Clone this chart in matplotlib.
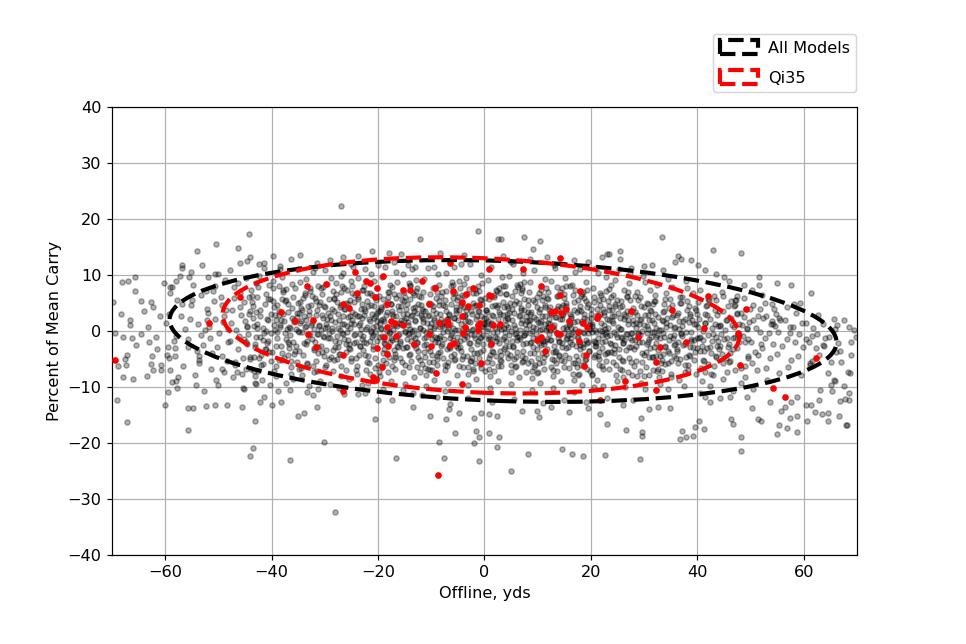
import matplotlib
matplotlib.use('Agg')
import matplotlib.pyplot as plt
from matplotlib.patches import Ellipse

plt.rcParams['font.size'] = 10.8

# pontos lidos fora do miolo (offline yds, % carry) - todos os modelos
edge_left = [
    (-27.0, 22.4), (-44.3, 17.3), (-50.5, 15.5), (-54.0, 14.3), (-46.3, 14.8), (-44.1, 13.2), (-53.0, 11.8),
    (-56.9, 11.8), (-45.9, 12.1), (-44.7, 12.5), (-39.8, 13.3), (-36.4, 12.9), (-34.6, 13.6), (-68.1, 8.8),
    (-67.0, 8.9), (-65.6, 9.6), (-65.6, 7.2), (-60.3, 8.6), (-64.6, 5.4), (-68.3, 3.0), (-66.7, 2.0),
    (-66.7, 1.1), (-69.8, 5.1), (-62.6, 5.1), (-59.1, 7.9), (-59.1, 6.8), (-57.9, 9.0), (-57.3, 9.8),
    (-56.9, 11.2), (-55.2, 10.5), (-52.0, 9.6), (-50.7, 10.1), (-62.3, 4.3), (-61.0, 2.6), (-64.0, 3.5),
    (-63.2, 0.8), (-42.3, 11.9), (-41.5, 12.2), (-38.5, 11.0), (-31.5, 12.2), (-29.0, 12.6), (-26.5, 13.2),
    (-25.0, 12.0), (-23.8, 13.4),
    (-69.0, -12.3), (-67.1, -16.3), (-67.9, -8.3), (-66.1, -8.5), (-63.5, -8.1), (-62.3, -6.9), (-62.6, -5.9),
    (-67.3, -6.0), (-68.9, -6.2), (-67.6, -5.0), (-67.2, -4.2), (-62.5, -4.5), (-61.5, -3.2), (-60.7, -6.0),
    (-60.7, -6.9), (-59.3, -4.8), (-58.2, -4.5), (-59.4, -2.8), (-59.0, -7.0), (-57.6, -8.2), (-57.9, -9.0),
    (-58.7, -9.1), (-57.7, -10.2), (-59.4, -10.9), (-60.0, -13.3), (-55.7, -13.8), (-54.7, -13.8), (-55.7, -17.7),
    (-54.2, -9.7), (-52.7, -10.7), (-52.4, -13.4), (-50.7, -13.3), (-48.3, -13.3), (-45.5, -13.6), (-45.1, -10.3),
    (-45.4, -10.1), (-50.0, -9.6), (-49.3, -6.8), (-46.5, -7.3), (-44.9, -6.8), (-53.7, -5.1), (-55.7, -2.8),
    (-42.1, -12.7), (-41.4, -11.7), (-43.2, -16.0), (-43.5, -20.9), (-44.0, -22.4), (-36.6, -23.0), (-39.9, -13.3),
    (-38.3, -12.7), (-38.8, -10.7), (-36.5, -10.5), (-35.1, -15.1), (-33.9, -14.6), (-31.4, -13.6), (-33.4, -10.9),
    (-32.2, -11.4), (-31.3, -10.4), (-30.2, -19.8), (-28.1, -32.3), (-43.2, -8.1), (-43.2, -9.3), (-42.9, -9.5),
    (-43.3, -7.1), (-26.4, -11.3), (-23.7, -11.3), (-69.5, -0.3), (-68.0, -1.0), (-66.3, -1.3), (-64.5, -0.5),
    (-63.0, -2.0), (-65.5, -2.5), (-61.8, -1.0),
]
edge_mid = [
    (-12.2, 16.5), (-1.3, 17.9), (2.5, 16.4), (3.1, 16.4), (7.4, 16.7), (10.4, 16.0), (9.2, 14.6), (-21.1, 14.2),
    (-18.0, 13.9), (-15.6, 13.7), (-8.4, 13.9), (-3.8, 13.6), (11.8, 13.2), (16.9, 12.7), (19.5, 12.3), (22.0, 13.2),
    (23.0, 13.8), (23.5, 13.8), (3.4, 13.4), (-14.3, 11.7), (-13.1, 11.4), (-9.5, 11.5), (-20.0, 11.8), (-17.0, 12.4),
    (-4.5, 12.0), (5.0, 12.3), (8.5, 12.8), (13.0, 11.7), (18.0, 11.0), (21.0, 11.3),
    (-20.6, -15.8), (-20.0, -12.3), (-17.3, -12.3), (-16.7, -22.7), (-13.4, -13.6), (-10.2, -15.1), (-7.3, -15.7),
    (-8.6, -19.8), (-7.6, -22.7), (-5.6, -18.2), (-6.7, -14.0), (-6.4, -13.0), (-4.8, -14.7), (-2.0, -15.5),
    (-1.5, -17.9), (-1.0, -18.9), (-1.9, -20.0), (-1.0, -23.2), (-0.6, -14.7), (0.9, -18.3), (2.8, -18.9),
    (2.4, -20.8), (2.4, -15.1), (0.9, -14.8), (4.9, -25.0), (7.1, -14.2), (8.1, -22.0), (9.8, -14.2), (10.2, -15.4),
    (12.5, -13.5), (14.6, -21.1), (15.9, -14.4), (16.4, -22.0), (18.5, -22.4), (22.7, -22.1), (23.1, -16.6),
    (21.7, -14.8), (19.5, -13.8), (-13.4, -11.1), (-11.7, -11.4), (-9.0, -11.7), (-22.5, -11.1), (-3.0, -12.0),
    (1.5, -12.6), (5.5, -12.2), (11.0, -12.8), (15.0, -12.3), (19.0, -12.6), (23.0, -12.0),
]
edge_right = [
    (33.4, 16.8), (43.0, 14.4), (48.2, 14.0), (25.5, 14.2), (25.4, 12.9), (29.9, 11.6), (36.4, 13.4), (36.9, 12.9),
    (38.8, 12.6), (40.2, 11.7), (35.8, 12.3), (43.6, 10.2), (45.0, 9.6), (46.0, 9.0), (51.6, 9.6), (51.6, 8.2),
    (54.9, 8.6), (57.7, 8.3), (61.4, 6.7), (58.1, 4.9), (59.3, 5.0), (65.7, 2.1), (66.2, 1.1), (68.6, 0.8),
    (48.7, 8.3), (50.2, 7.4), (52.2, 6.5), (43.6, 5.6), (44.9, 6.2), (47.4, 6.2), (47.1, 4.6), (47.4, 3.2),
    (51.8, 3.9), (53.0, 2.6), (54.8, 3.1), (55.4, 2.3), (54.0, 1.7), (54.3, 1.2), (57.4, 0.8), (27.5, 11.3),
    (31.5, 11.8), (33.5, 10.8), (41.5, 10.8),
    (29.5, -15.5), (26.6, -17.7), (29.6, -18.0), (29.7, -18.8), (29.3, -22.9), (37.1, -17.8), (36.8, -19.3),
    (37.8, -19.0), (39.1, -18.7), (39.6, -17.2), (40.4, -16.0), (41.3, -17.5), (46.3, -15.8), (46.7, -16.6),
    (48.2, -18.9), (48.2, -21.5), (51.5, -15.7), (51.9, -16.0), (54.9, -18.4), (55.4, -16.8), (56.9, -17.3),
    (58.8, -18.0), (57.4, -15.5), (58.8, -15.2), (60.6, -16.0), (56.5, -13.6), (55.7, -14.2), (60.4, -13.3),
    (61.4, -13.3), (62.1, -14.5), (63.5, -14.8), (64.5, -14.7), (64.6, -16.0), (66.7, -15.1), (68.1, -16.8),
    (66.8, -12.5), (68.6, -12.4), (68.6, -11.1), (62.9, -12.3), (63.1, -10.6), (64.6, -7.5), (65.7, -8.7),
    (65.9, -9.0), (65.1, -9.6), (65.3, -10.8), (68.7, -7.5), (68.8, -1.9), (69.8, -1.0), (63.7, -2.5),
    (61.2, -5.7), (61.6, -5.4), (58.7, -11.7), (57.7, -12.6), (50.2, -13.8), (50.5, -10.4), (53.7, -12.6),
    (48.2, -9.3), (49.3, -11.7), (44.3, -11.9), (46.2, -11.7), (46.8, -10.8), (40.5, -11.0), (41.5, -11.7),
    (42.4, -12.6), (34.9, -13.8), (32.7, -13.6), (31.0, -14.0), (26.1, -13.2), (28.0, -12.4), (68.9, -4.3),
    (68.3, -7.3), (67.8, -12.2), (68.0, -16.7), (69.4, 0.2), (67.0, -5.5), (66.0, -3.8), (67.5, -9.8),
    (60.5, -1.5), (62.5, -0.5), (64.0, -1.2),
]

# miolo da nuvem (estimado faixa por faixa de 4 jardas)
core_left = [
    (-59.2, 3.1), (-58.4, -1.8), (-57.7, 5.6), (-56.3, 0.4), (-59.6, -4.2), (-57.1, 2.7), (-58.8, 7.9), (-56.6, -6.3),
    (-57.9, -0.9), (-59.9, 1.5), (-56.9, 4.8), (-58.1, -3.0),
    (-55.4, 2.2), (-54.1, -3.6), (-53.2, 6.4), (-52.6, 0.1), (-55.8, -1.4), (-54.7, 8.3), (-53.7, -5.8), (-52.2, 3.9),
    (-55.1, 4.7), (-53.9, 1.3), (-52.9, -2.5), (-54.4, -7.9), (-55.6, 9.6), (-53.3, -0.7), (-52.4, 7.1), (-54.9, 5.5),
    (-53.6, -4.4), (-52.1, 1.9),
    (-51.7, 0.8), (-50.2, -2.9), (-49.3, 4.6), (-48.4, -5.3), (-51.1, 7.2), (-50.6, 2.1), (-49.8, -0.4), (-48.8, 9.1),
    (-51.4, -6.8), (-50.9, 5.4), (-49.1, 1.6), (-48.2, -1.9), (-51.9, 3.3), (-50.4, -8.7), (-49.6, 6.1), (-48.6, 3.8),
    (-51.2, -3.9), (-50.0, 10.2), (-49.4, -4.5), (-48.1, 0.3), (-51.5, -1.2), (-50.7, 8.0), (-49.0, -7.4), (-48.9, 2.6),
    (-47.6, 1.4), (-46.3, -3.2), (-45.2, 5.1), (-44.4, -0.6), (-47.1, 7.8), (-46.8, -6.1), (-45.7, 2.9), (-44.9, 9.4),
    (-47.9, -1.7), (-46.0, 4.2), (-45.4, -4.9), (-44.1, 3.5), (-47.3, -8.3), (-46.6, 0.2), (-45.9, 6.7), (-44.6, -2.4),
    (-47.8, 10.8), (-46.2, -0.9), (-45.0, 1.8), (-44.3, 6.0), (-47.4, 3.7), (-46.9, -5.5), (-45.6, -7.6), (-44.7, 0.7),
    (-47.0, 5.9), (-46.4, 8.5), (-45.1, -1.5), (-44.0, -5.0),
    (-43.5, 2.3), (-42.2, -1.1), (-41.3, 4.8), (-40.4, -3.7), (-43.8, 7.3), (-42.7, 0.5), (-41.6, -5.9), (-40.7, 1.9),
    (-43.1, -2.8), (-42.4, 9.9), (-41.0, 6.6), (-40.1, -0.3), (-43.9, -6.7), (-42.9, 3.4), (-41.8, -8.8), (-40.6, 5.7),
    (-43.3, 0.9), (-42.0, -4.3), (-41.4, 11.2), (-40.2, 3.0), (-43.6, 5.2), (-42.5, -7.2), (-41.1, 0.0), (-40.9, -2.1),
    (-43.0, 8.6), (-42.1, 2.7), (-41.7, -1.6), (-40.5, 8.2), (-43.4, -4.6), (-42.8, 6.1), (-41.2, -3.3), (-40.3, -9.6),
    (-39.5, 1.1), (-38.3, -2.6), (-37.4, 5.3), (-36.6, -0.8), (-39.8, 7.6), (-38.6, 3.6), (-37.7, -4.8), (-36.2, 2.4),
    (-39.2, -6.3), (-38.0, 9.7), (-37.1, 0.4), (-36.8, -3.1), (-39.6, 4.2), (-38.9, -1.3), (-37.9, 6.9), (-36.4, -7.7),
    (-39.0, -0.2), (-38.2, 2.0), (-37.3, -9.2), (-36.9, 4.9), (-39.9, -3.8), (-38.4, 11.6), (-37.6, 1.7), (-36.1, 8.4),
    (-39.3, 2.9), (-38.7, -5.2), (-37.0, -1.9), (-36.5, 0.6), (-39.7, 9.0), (-38.1, 5.8), (-37.8, 3.1), (-36.3, -5.4),
    (-39.1, -8.1), (-38.5, 0.8), (-37.2, 7.5), (-36.7, -2.3),
    (-35.4, 0.3), (-34.2, 3.8), (-33.3, -1.7), (-32.5, 6.2), (-35.8, -4.1), (-34.7, 1.5), (-33.6, 9.2), (-32.1, -3.0),
    (-35.1, 5.0), (-34.4, -6.6), (-33.9, 2.6), (-32.8, -0.5), (-35.6, 7.7), (-34.0, -2.2), (-33.1, 4.4), (-32.3, 10.5),
    (-35.9, -8.5), (-34.9, -0.1), (-33.4, -5.7), (-32.6, 1.0), (-35.2, 3.2), (-34.6, 8.8), (-33.7, 0.7), (-32.0, -7.3),
    (-35.5, -2.7), (-34.1, 5.9), (-33.0, -9.9), (-32.9, 3.5), (-35.0, 11.0), (-34.8, -3.5), (-33.8, 6.8), (-32.4, -1.4),
    (-35.7, 1.9), (-34.3, -7.9), (-33.5, 2.0), (-32.7, 7.1), (-35.3, -5.6), (-34.5, 4.1),
    (-31.6, 2.8), (-30.4, -0.9), (-29.3, 5.7), (-28.5, -3.4), (-31.2, 8.1), (-30.8, 0.2), (-29.7, -6.0), (-28.1, 1.6),
    (-31.9, -2.0), (-30.1, 4.5), (-29.0, -1.2), (-28.8, 9.5), (-31.4, -7.1), (-30.6, 6.6), (-29.5, 2.2), (-28.3, -5.1),
    (-31.0, 0.9), (-30.2, -4.4), (-29.9, 10.9), (-28.6, 4.0), (-31.7, 5.3), (-30.9, -8.9), (-29.2, -0.3), (-28.4, 7.2),
    (-31.3, -3.9), (-30.5, 2.9), (-29.6, 8.4), (-28.0, -1.8), (-31.8, 11.3), (-30.0, -6.5), (-29.4, 3.3), (-28.7, 0.5),
    (-31.1, 4.7), (-30.7, -2.6), (-29.1, -9.4), (-28.2, 5.9), (-31.5, -0.6), (-30.3, 7.9), (-29.8, 1.3), (-28.9, -4.7),
    (-27.5, 0.6), (-26.2, 3.9), (-25.4, -2.3), (-24.3, 6.4), (-27.8, -5.0), (-26.7, 1.2), (-25.1, 9.0), (-24.6, -0.7),
    (-27.2, 4.3), (-26.0, -3.8), (-25.7, 2.5), (-24.1, -6.9), (-27.9, 8.6), (-26.4, -1.5), (-25.3, 5.6), (-24.8, 1.9),
    (-27.0, -8.1), (-26.9, 6.9), (-25.9, -0.1), (-24.4, 3.0), (-27.6, -2.9), (-26.5, 10.3), (-25.0, -5.3), (-24.9, 8.0),
    (-27.3, 2.0), (-26.1, -7.0), (-25.6, 4.8), (-24.2, -1.9), (-27.7, 5.1), (-26.8, -0.4), (-25.2, -3.2), (-24.7, 11.4),
    (-27.1, -4.1), (-26.3, 7.6), (-25.8, 0.9), (-24.0, 2.6), (-27.4, -10.1), (-26.6, 2.7), (-25.5, -8.6), (-24.5, 5.2),
    (-27.0, 9.8), (-25.0, 1.4),
    (-23.6, 1.0), (-22.3, -2.1), (-21.4, 4.6), (-20.5, -0.2), (-23.1, 7.4), (-22.7, 2.9), (-21.8, -4.5), (-20.2, 1.7),
    (-23.9, -6.2), (-22.0, 5.3), (-21.1, -1.0), (-20.8, 8.9), (-23.4, -0.6), (-22.5, 3.6), (-21.6, -7.7), (-20.3, 6.0),
    (-23.0, 2.3), (-22.9, -3.4), (-21.3, 10.1), (-20.6, -4.8), (-23.7, 5.7), (-22.2, 0.4), (-21.9, -9.3), (-20.1, 3.2),
    (-23.3, -2.7), (-22.6, 8.1), (-21.0, 0.8), (-20.9, -2.6), (-23.8, 9.4), (-22.1, -5.6), (-21.7, 2.1), (-20.4, -8.4),
    (-23.2, 4.0), (-22.8, -0.9), (-21.2, 6.5), (-20.7, 4.4), (-23.5, -4.3), (-22.4, 11.1), (-21.5, -1.8), (-20.0, -6.0),
    (-23.0, -9.6), (-22.0, 6.8), (-21.4, 0.0), (-20.6, 2.6),
]
core_mid = [
    (-19.5, 0.5), (-18.4, 3.4), (-17.3, -1.6), (-16.6, 5.9), (-19.1, -4.0), (-18.8, 1.8), (-17.7, 8.2), (-16.2, -2.9),
    (-19.8, 6.3), (-18.0, -0.3), (-17.1, 2.7), (-16.9, -6.7), (-19.3, 9.6), (-18.6, -2.4), (-17.5, 4.9), (-16.4, 0.9),
    (-19.6, -8.0), (-18.2, 7.0), (-17.9, -4.6), (-16.1, 3.7), (-19.0, 2.1), (-18.5, -5.8), (-17.2, 0.2), (-16.7, 10.6),
    (-19.9, -1.1), (-18.1, 5.2), (-17.6, -9.0), (-16.3, -0.8), (-19.4, 4.2), (-18.9, -3.3), (-17.0, 6.6), (-16.8, -4.1),
    (-19.2, -6.3), (-18.3, 0.0), (-17.4, 3.0), (-16.5, 8.7), (-19.7, 1.4), (-18.7, 11.5), (-17.8, -2.0), (-16.0, 1.5),
    (-19.0, -10.3), (-18.2, -7.3), (-17.3, 7.8), (-16.6, -1.4), (-19.5, 3.9), (-17.0, -5.2),
    (-15.6, 1.3), (-14.3, -0.6), (-13.4, 4.1), (-12.5, -3.6), (-15.2, 7.0), (-14.8, 2.4), (-13.8, -5.4), (-12.1, 0.6),
    (-15.9, -2.2), (-14.0, 5.7), (-13.1, -1.2), (-12.8, 9.1), (-15.4, -7.4), (-14.6, 3.1), (-13.6, 0.0), (-12.3, 6.3),
    (-15.0, -0.1), (-14.2, -4.3), (-13.9, 8.0), (-12.7, -6.5), (-15.7, 4.5), (-14.4, 1.0), (-13.2, -8.2), (-12.0, 2.9),
    (-15.3, 10.1), (-14.7, -2.8), (-13.5, 6.8), (-12.6, -1.9), (-15.8, -4.9), (-14.1, 8.6), (-13.0, 1.7), (-12.9, -3.0),
    (-15.1, 2.0), (-14.9, -9.5), (-13.3, 3.6), (-12.2, -5.1), (-15.5, 5.6), (-14.5, -1.4), (-13.7, 11.0), (-12.4, 4.9),
    (-15.0, -6.0), (-14.0, 0.3), (-13.2, -2.5), (-12.6, 7.6), (-15.4, -10.6), (-13.8, 2.6),
    (-11.5, 0.2), (-10.4, 2.8), (-9.3, -1.9), (-8.6, 5.4), (-11.2, -4.7), (-10.8, 1.4), (-9.7, 7.7), (-8.2, -2.6),
    (-11.9, 6.1), (-10.0, -0.5), (-9.1, 3.3), (-8.9, -6.1), (-11.4, 9.3), (-10.6, -3.0), (-9.6, 4.5), (-8.4, 0.7),
    (-11.0, -7.8), (-10.2, 6.6), (-9.9, -4.2), (-8.1, 2.1), (-11.7, 2.5), (-10.5, -5.5), (-9.2, 0.9), (-8.7, 10.2),
    (-11.3, -1.3), (-10.1, 4.8), (-9.5, -8.7), (-8.3, -0.9), (-11.8, 4.0), (-10.9, -2.3), (-9.0, 6.9), (-8.8, -4.0),
    (-11.1, -6.6), (-10.3, 0.0), (-9.4, 2.4), (-8.5, 8.3), (-11.6, 1.6), (-10.7, 11.2), (-9.8, -1.5), (-8.0, 1.3),
    (-11.0, -9.9), (-10.2, -6.9), (-9.3, 7.9), (-8.6, -1.2), (-11.5, 3.6), (-9.0, -5.0),
    (-7.6, 1.6), (-6.3, -0.8), (-5.4, 4.3), (-4.5, -3.5), (-7.2, 7.2), (-6.8, 2.2), (-5.8, -5.2), (-4.1, 0.4),
    (-7.9, -2.4), (-6.0, 5.9), (-5.1, -1.0), (-4.8, 9.0), (-7.4, -7.0), (-6.6, 3.0), (-5.6, 0.1), (-4.3, 6.5),
    (-7.0, 0.0), (-6.2, -4.4), (-5.9, 8.2), (-4.7, -6.3), (-7.7, 4.7), (-6.4, 1.2), (-5.2, -7.9), (-4.0, 2.7),
    (-7.3, 10.3), (-6.7, -2.9), (-5.5, 6.7), (-4.6, -1.7), (-7.8, -4.8), (-6.1, 8.8), (-5.0, 1.9), (-4.9, -3.1),
    (-7.1, 2.1), (-6.9, -9.2), (-5.3, 3.8), (-4.2, -5.0), (-7.5, 5.5), (-6.5, -1.3), (-5.7, 11.4), (-4.4, 5.0),
    (-7.0, -6.2), (-6.0, 0.5), (-5.2, -2.2), (-4.6, 7.7), (-7.4, -10.8), (-5.8, 2.4),
    (-3.5, 0.4), (-2.4, 3.0), (-1.3, -1.7), (-0.6, 5.6), (-3.2, -4.5), (-2.8, 1.6), (-1.7, 7.5), (-0.2, -2.4),
    (-3.9, 6.3), (-2.0, -0.7), (-1.1, 3.5), (-0.9, -5.9), (-3.4, 9.5), (-2.6, -3.2), (-1.6, 4.7), (-0.4, 0.9),
    (-3.0, -7.6), (-2.2, 6.8), (-1.9, -4.0), (-0.1, 2.3), (-3.7, 2.7), (-2.5, -5.3), (-1.2, 1.1), (-0.7, 10.0),
    (-3.3, -1.1), (-2.1, 5.0), (-1.5, -8.5), (-0.3, -0.7), (-3.8, 4.2), (-2.9, -2.1), (-1.0, 7.1), (-0.8, -3.8),
    (-3.1, -6.4), (-2.3, 0.2), (-1.4, 2.6), (-0.5, 8.5), (-3.6, 1.8), (-2.7, 11.9), (-1.8, -1.3), (0.0, 1.5),
    (-3.0, -9.7), (-2.2, -6.7), (-1.3, 8.1), (-0.6, -1.0), (-3.5, 3.8), (-1.0, -4.8),
    (0.5, 0.0), (1.6, 2.6), (2.7, -2.1), (3.4, 5.2), (0.8, -4.9), (1.2, 1.2), (2.3, 7.1), (3.8, -2.8),
    (0.1, 5.9), (2.0, -1.1), (2.9, 3.1), (3.1, -6.3), (0.6, 9.1), (1.4, -3.6), (2.4, 4.3), (3.6, 0.5),
    (1.0, -8.0), (1.8, 6.4), (2.1, -4.4), (3.9, 1.9), (0.3, 2.3), (1.5, -5.7), (2.8, 0.7), (3.3, 9.6),
    (0.7, -1.5), (1.9, 4.6), (2.5, -8.9), (3.7, -1.1), (0.2, 3.8), (1.1, -2.5), (3.0, 6.7), (3.2, -4.2),
    (0.9, -6.8), (1.7, -0.2), (2.6, 2.2), (3.5, 8.1), (0.4, 1.4), (1.3, 11.5), (2.2, -1.7), (4.0, 1.1),
    (1.0, -10.1), (1.8, -7.1), (2.7, 7.7), (3.4, -1.4), (0.5, 3.4), (3.0, -5.2),
    (4.4, 0.8), (5.6, 3.3), (6.7, -1.4), (7.4, 5.8), (4.8, -4.2), (5.2, 1.9), (6.3, 7.8), (7.8, -2.1),
    (4.1, 6.6), (6.0, -0.4), (6.9, 3.8), (7.1, -5.6), (4.6, 9.8), (5.4, -2.9), (6.4, 5.0), (7.6, 1.2),
    (5.0, -7.3), (5.8, 7.1), (6.1, -3.7), (7.9, 2.6), (4.3, 3.0), (5.5, -5.0), (6.8, 1.4), (7.3, 10.3),
    (4.7, -0.8), (5.9, 5.3), (6.5, -8.2), (7.7, -0.4), (4.2, 4.5), (5.1, -1.8), (7.0, 7.4), (7.2, -3.5),
    (4.9, -6.1), (5.7, 0.5), (6.6, 2.9), (7.5, 8.8), (4.4, 2.1), (5.3, 12.0), (6.2, -1.0), (8.0, 1.8),
    (5.0, -9.4), (5.8, -6.4), (6.7, 8.4), (7.4, -0.7), (4.5, 4.1), (7.0, -4.5),
    (8.5, -0.3), (9.6, 2.2), (10.7, -2.5), (11.4, 4.7), (8.8, -5.3), (9.2, 0.8), (10.3, 6.7), (11.8, -3.2),
    (8.1, 5.5), (10.0, -1.5), (10.9, 2.7), (11.1, -6.7), (8.6, 8.7), (9.4, -4.0), (10.4, 3.9), (11.6, 0.1),
    (9.0, -8.4), (9.8, 6.0), (10.1, -4.8), (11.9, 1.5), (8.3, 1.9), (9.5, -6.1), (10.8, 0.3), (11.3, 9.2),
    (8.7, -1.9), (9.9, 4.2), (10.5, -9.3), (11.7, -1.5), (8.2, 3.4), (9.1, -2.9), (11.0, 6.3), (11.2, -4.6),
    (8.9, -7.2), (9.7, -0.6), (10.6, 1.8), (11.5, 7.7), (8.4, 1.0), (9.3, 10.9), (10.2, -2.1), (12.0, 0.7),
    (9.0, -10.5), (9.8, -7.5), (10.7, 7.3), (11.4, -1.8), (8.5, 3.0), (11.0, -5.6),
    (12.4, 0.1), (13.5, 2.5), (14.6, -2.2), (15.3, 5.0), (12.7, -5.0), (13.1, 1.1), (14.2, 7.0), (15.7, -2.9),
    (12.0, 5.8), (13.9, -1.2), (14.8, 3.0), (15.0, -6.4), (12.5, 9.0), (13.3, -3.7), (14.3, 4.2), (15.5, 0.4),
    (12.9, -8.1), (13.7, 6.3), (14.0, -4.5), (15.8, 1.8), (12.2, 2.2), (13.4, -5.8), (14.7, 0.6), (15.2, 9.5),
    (12.6, -1.6), (13.8, 4.5), (14.4, -9.0), (15.6, -1.2), (12.1, 3.7), (13.0, -2.6), (14.9, 6.6), (15.1, -4.3),
    (12.8, -6.9), (13.6, -0.3), (14.5, 2.1), (15.4, 8.0), (12.3, 1.3), (13.2, 11.2), (14.1, -1.8), (15.9, 1.0),
    (12.9, -10.2), (13.7, -7.2), (14.6, 7.6), (15.3, -1.5), (12.4, 3.3), (14.9, -5.3),
    (16.3, -0.6), (17.4, 1.8), (18.5, -2.9), (19.2, 4.3), (16.6, -5.7), (17.0, 0.4), (18.1, 6.3), (19.6, -3.6),
    (16.9, 5.1), (17.8, -1.9), (18.7, 2.3), (19.9, -7.1), (16.4, 8.3), (17.2, -4.4), (18.2, 3.5), (19.4, -0.3),
    (16.8, -8.8), (17.6, 5.6), (18.9, -5.2), (19.7, 1.1), (16.1, 1.5), (17.3, -6.5), (18.6, -0.1), (19.1, 8.8),
    (16.5, -2.3), (17.7, 3.8), (18.3, -9.7), (19.5, -1.9), (16.0, 3.0), (17.9, -3.3), (18.8, 5.9), (19.0, -5.0),
    (16.7, -7.6), (17.5, -1.0), (18.4, 1.4), (19.3, 7.3), (16.2, 0.6), (17.1, 10.5), (18.0, -2.5), (19.8, 0.3),
    (16.8, -10.9), (17.6, -7.9), (18.5, 6.9), (19.2, -2.2), (16.3, 2.6), (18.8, -6.0),
]
core_right = [
    (20.2, 0.9), (21.3, -1.3), (22.4, 3.4), (23.1, -4.0), (20.5, 6.0), (21.9, 1.5), (22.0, -6.3), (23.5, 2.0),
    (20.8, -2.6), (21.7, 4.7), (22.6, -0.6), (23.8, 8.2), (20.3, -7.8), (21.1, 2.8), (22.1, -3.1), (23.3, 5.3),
    (20.7, 0.2), (21.5, -5.0), (22.8, 9.6), (23.6, -2.2), (20.0, 4.0), (21.2, -8.8), (22.5, 1.1), (23.0, -0.9),
    (20.4, 7.7), (21.6, -3.7), (22.2, 5.7), (23.4, -6.7), (20.9, -0.1), (21.8, 3.1), (22.7, -1.7), (23.9, 2.7),
    (20.6, -4.6), (21.4, 10.3), (22.3, -9.9), (23.2, 0.6), (20.1, 2.4), (21.0, -2.1), (22.9, 7.1), (23.7, -3.8),
    (20.5, -10.0), (21.9, 6.5), (22.0, 0.0), (23.5, 4.5),
    (24.4, -0.2), (25.5, 2.3), (26.6, -3.4), (27.3, 5.6), (24.7, -6.0), (25.1, 0.7), (26.2, 7.3), (27.7, -1.6),
    (24.0, 3.8), (26.0, -2.2), (26.9, 1.9), (27.0, -7.4), (24.5, 9.1), (25.3, -4.6), (26.3, 3.0), (27.5, -0.4),
    (24.9, -9.0), (25.7, 5.4), (26.1, -5.3), (27.9, 1.2), (24.2, 1.4), (25.4, -6.8), (26.7, -0.6), (27.2, 8.6),
    (24.6, -2.5), (25.8, 4.4), (26.4, -10.0), (27.6, -2.8), (24.1, 6.4), (25.0, -1.1), (26.8, 6.2), (27.1, -4.9),
    (24.8, -7.9), (25.6, 0.3), (26.5, 2.6), (27.4, 10.4), (24.3, -4.0), (25.2, 11.0), (26.0, -8.3), (27.8, 3.5),
    (25.9, -1.3), (24.6, 4.9),
    (28.5, 0.5), (29.6, -2.0), (30.7, 2.9), (31.4, -4.7), (28.8, 5.5), (29.2, -0.8), (30.3, -6.4), (31.8, 1.4),
    (28.1, -3.2), (30.0, 4.2), (30.9, -1.4), (31.1, 7.4), (28.6, -8.1), (29.4, 2.2), (30.4, -3.8), (31.6, 4.8),
    (28.9, -0.3), (29.7, -5.6), (30.1, 8.7), (31.9, -2.8), (28.2, 3.4), (29.5, -9.3), (30.8, 0.4), (31.3, -1.0),
    (28.7, 7.0), (29.9, -4.2), (30.5, 5.0), (31.7, -7.0), (28.3, -1.6), (29.1, 1.3), (30.6, -2.4), (31.0, 2.0),
    (28.4, -5.3), (29.8, 9.8), (30.2, -10.4), (31.5, -0.2), (28.0, 1.9), (29.3, 6.1), (30.9, -7.8), (31.2, 3.7),
    (32.4, -0.8), (33.5, 1.7), (34.6, -3.9), (35.3, 4.6), (32.7, -6.8), (33.1, 0.1), (34.2, 6.7), (35.7, -2.5),
    (32.0, 3.0), (33.9, -2.8), (34.8, 1.0), (35.0, -7.6), (32.5, 8.3), (33.3, -5.1), (34.3, 2.3), (35.5, -1.2),
    (32.9, -9.4), (33.7, 4.8), (34.0, -5.9), (35.8, 0.8), (32.2, 0.6), (33.4, -7.1), (34.7, -1.6), (35.2, 7.9),
    (32.6, -3.4), (33.8, 3.6), (34.4, -10.3), (35.6, -4.4), (32.1, 5.4), (33.0, -1.3), (34.9, 5.7), (35.1, -5.4),
    (32.8, -8.2), (33.6, -0.4), (34.5, 9.3), (35.4, 2.9), (32.3, -4.5), (34.1, 0.7),
    (36.5, 0.3), (37.6, -2.4), (38.7, 2.6), (39.4, -5.2), (36.8, 5.0), (37.2, -0.9), (38.3, -7.0), (39.8, 1.2),
    (36.1, -3.6), (38.0, 3.8), (38.9, -1.8), (39.1, 6.8), (36.6, -8.7), (37.4, 1.8), (38.4, -4.3), (39.6, 4.1),
    (36.9, -0.5), (37.7, -6.1), (38.1, 7.7), (39.9, -3.0), (36.2, 2.8), (37.5, -9.8), (38.8, -0.1), (39.3, -1.6),
    (36.7, 6.1), (37.9, -4.6), (38.5, 4.5), (39.7, -7.6), (36.3, -2.0), (37.1, 0.9), (38.6, -2.9), (39.0, 2.0),
    (36.4, -5.8), (37.8, 9.0),
    (40.4, -1.2), (41.5, 1.5), (42.6, -4.0), (43.3, 3.8), (40.7, -6.6), (41.1, 0.0), (42.2, 5.6), (43.7, -2.6),
    (40.0, 3.1), (41.9, -3.0), (42.8, 0.5), (43.0, -7.8), (40.5, 7.4), (41.3, -5.4), (42.3, 2.2), (43.5, -1.0),
    (40.9, -8.9), (41.7, 4.5), (42.0, -5.9), (43.8, 0.9), (40.2, 0.8), (41.4, -7.4), (42.7, -1.8), (43.2, 6.3),
    (40.6, -3.5), (41.8, 2.9), (42.4, -9.8), (43.6, -4.4), (40.1, 5.2), (41.0, -1.6),
    (44.5, -0.6), (45.6, 1.9), (46.7, -3.3), (47.4, 3.1), (44.8, -5.8), (45.2, 0.2), (46.3, 5.3), (47.8, -2.0),
    (44.1, 3.6), (46.0, -2.3), (46.9, 0.8), (47.0, -6.9), (44.6, 6.9), (45.4, -4.8), (46.4, 2.4), (47.6, -0.7),
    (44.9, -8.5), (45.8, 4.4), (46.1, -5.4), (47.9, 1.3), (44.3, 1.1), (45.5, -7.3), (46.8, -1.2), (47.2, 5.6),
    (44.2, -2.7), (45.0, -1.5),
    (48.6, -0.9), (49.7, 1.6), (50.8, -3.8), (51.5, 2.7), (48.9, -6.2), (49.3, 0.3), (50.4, 4.6), (51.9, -2.4),
    (48.2, 3.2), (50.1, -2.0), (51.0, 0.5), (51.2, -7.0), (48.7, 5.9), (49.5, -4.9), (50.5, 2.0), (51.7, -0.2),
    (49.0, -8.3), (49.9, 3.9), (50.2, -5.7), (48.4, 1.0), (49.6, -1.4), (51.4, -4.3),
    (52.7, -1.2), (53.8, 1.2), (54.9, -4.1), (55.6, 2.0), (53.0, -6.6), (53.4, -0.3), (54.5, 3.9), (55.9, -2.7),
    (52.3, 2.4), (54.2, -2.3), (55.1, -0.1), (55.3, -7.5), (52.8, 5.0), (53.6, -4.8), (54.6, 0.9), (52.1, -3.1),
    (53.1, -8.8), (54.0, 4.9),
    (56.8, -1.5), (57.9, 0.8), (58.9, -4.4), (59.6, 1.4), (57.1, -6.4), (57.5, -0.4), (58.6, 3.2), (59.9, -2.9),
    (56.4, 2.0), (58.3, -2.0), (59.2, -0.6), (59.4, -7.8), (56.9, 4.3), (57.7, -5.1),
    (60.9, -1.9), (61.8, 0.5), (62.9, -4.2), (63.6, 1.3), (61.2, -6.0), (61.6, -0.9), (62.6, 2.8), (63.9, -2.6),
    (60.4, 1.5), (62.3, -3.1),
    (64.7, -1.0), (65.8, 0.4), (66.9, -3.5), (67.6, 1.9), (65.1, -5.6), (66.4, -2.2),
]

# parte mais densa do centro (|y| < 9), estimada
core_dense = [
    (-44.6, 0.9), (-43.2, -2.3), (-42.1, 3.7), (-41.4, -0.4), (-40.3, 5.8), (-44.0, -4.6), (-43.7, 6.2), (-42.8, 1.3),
    (-41.9, -6.0), (-40.8, 2.2), (-44.3, 3.0), (-43.0, -1.0), (-42.5, 7.9), (-41.1, -3.2), (-40.6, -1.7), (-44.9, -2.0),
    (-43.5, 4.4), (-42.3, -4.9), (-41.6, 0.6), (-40.1, -5.3),
    (-39.4, 0.1), (-38.6, 2.8), (-37.3, -1.5), (-36.2, 4.1), (-35.6, -3.6), (-39.8, 5.3), (-38.1, -5.1), (-37.8, 7.3),
    (-36.7, 0.7), (-35.3, 2.5), (-39.1, -2.7), (-38.4, 1.0), (-37.0, 3.4), (-36.4, -6.5), (-35.9, 6.0), (-39.6, -7.2),
    (-38.9, 4.6), (-37.5, -0.3), (-36.0, -2.0), (-35.1, 0.0), (-39.2, 2.0), (-38.0, -3.9), (-37.2, 5.6), (-36.9, -4.2),
    (-35.7, 1.6), (-38.7, 8.1),
    (-34.5, 1.8), (-33.2, -0.8), (-32.6, 4.6), (-31.3, -2.9), (-30.4, 2.4), (-34.1, -4.2), (-33.8, 6.4), (-32.0, 0.3),
    (-31.7, -5.4), (-30.9, 5.2), (-34.8, 3.2), (-33.5, -2.4), (-32.3, -6.3), (-31.0, 1.1), (-30.2, -1.1), (-34.3, -0.2),
    (-33.0, 2.9), (-32.8, 7.6), (-31.5, 3.8), (-30.6, -3.7), (-34.9, -6.8), (-33.6, 0.9), (-32.1, -3.4), (-31.9, 5.9),
    (-30.0, 0.5), (-34.6, 5.1), (-33.3, -5.9), (-32.5, 1.5), (-31.2, -0.5), (-30.7, 7.7),
    (-29.6, 0.8), (-28.3, 3.5), (-27.4, -1.9), (-26.1, 5.0), (-25.5, -3.1), (-29.2, -5.0), (-28.8, 1.9), (-27.9, 6.6),
    (-26.6, -0.6), (-25.2, 2.7), (-29.9, 4.3), (-28.0, -2.8), (-27.1, 0.2), (-26.9, -6.2), (-25.8, 7.3), (-29.4, -1.3),
    (-28.5, -7.1), (-27.6, 3.0), (-26.3, 1.2), (-25.0, -4.8), (-29.0, 2.6), (-28.2, 5.8), (-27.3, -4.1), (-26.8, 8.0),
    (-25.6, -1.6), (-29.7, -3.4), (-28.7, 0.0), (-27.8, -0.9), (-26.4, 3.9), (-25.3, 0.6), (-27.0, 4.7), (-26.0, -2.4),
    (-24.5, 1.2), (-23.4, -2.6), (-22.6, 3.9), (-21.3, -0.1), (-20.4, 5.6), (-24.1, -4.9), (-23.8, 6.1), (-22.1, 0.7),
    (-21.7, -5.7), (-20.8, 2.3), (-24.8, 3.4), (-23.0, -1.4), (-22.9, 7.4), (-21.0, -3.3), (-20.1, -1.8), (-24.3, -0.5),
    (-23.6, 2.6), (-22.4, -4.3), (-21.5, 1.7), (-20.6, -6.6), (-24.9, 6.8), (-23.2, 0.3), (-22.7, -2.0), (-21.9, 4.4),
    (-20.3, 0.9), (-24.6, -2.1), (-23.1, 4.9), (-22.2, -7.0), (-21.2, 3.1), (-20.9, -0.8), (-24.0, -7.6), (-23.3, 1.5),
    (-21.6, 6.7), (-20.0, 3.6),
    (-19.4, 0.4), (-18.5, 2.9), (-17.6, -1.2), (-16.3, 4.4), (-15.4, -3.0), (-19.0, -5.2), (-18.2, 6.0), (-17.1, 1.3),
    (-16.8, -4.6), (-15.7, 2.0), (-19.7, 3.6), (-18.8, -2.2), (-17.9, 7.0), (-16.1, -0.5), (-15.2, 5.3), (-19.2, -0.9),
    (-18.0, 0.8), (-17.4, -6.3), (-16.6, 2.6), (-15.9, -1.8), (-19.9, -7.3), (-18.6, 4.7), (-17.3, 3.5), (-16.4, -2.7),
    (-15.0, 0.0), (-19.5, 1.9), (-18.3, -3.9), (-17.7, -0.2), (-16.0, 6.5), (-15.5, -5.6), (-19.1, 5.7), (-18.9, -1.5),
    (-17.0, -3.4), (-16.9, 1.0), (-15.3, 3.1), (-17.5, 4.9),
    (-14.4, 1.6), (-13.5, -0.9), (-12.6, 3.3), (-11.3, -2.5), (-10.4, 5.0), (-14.0, -4.1), (-13.2, 6.4), (-12.1, 0.5),
    (-11.8, -5.9), (-10.7, 2.7), (-14.8, 3.9), (-13.8, -1.7), (-12.9, 7.2), (-11.0, -0.2), (-10.2, -3.6), (-14.2, -0.4),
    (-13.0, 1.9), (-12.4, -4.7), (-11.5, 2.1), (-10.6, -6.8), (-14.9, 6.0), (-13.3, 0.2), (-12.7, -2.2), (-11.9, 4.6),
    (-10.3, 0.8), (-14.6, -2.9), (-13.1, 4.2), (-12.2, -7.4), (-11.2, 3.6), (-10.9, -1.1), (-14.1, -6.5), (-13.6, 2.8),
    (-11.6, 6.9), (-10.0, 1.4), (-12.5, -0.6), (-14.5, 4.8), (-11.4, -3.8), (-13.9, 8.2),
    (-9.5, 0.6), (-8.4, 3.1), (-7.6, -1.4), (-6.3, 4.8), (-5.4, -2.7), (-9.0, -4.4), (-8.2, 6.2), (-7.1, 1.1),
    (-6.8, -5.5), (-5.7, 2.4), (-9.7, 3.8), (-8.8, -2.0), (-7.9, 7.0), (-6.1, -0.3), (-5.2, 5.5), (-9.2, -1.0),
    (-8.0, 0.9), (-7.4, -6.1), (-6.6, 2.9), (-5.9, -1.6), (-9.9, -7.0), (-8.6, 4.6), (-7.3, 3.6), (-6.4, -3.1),
    (-5.0, 0.1), (-9.4, 1.9), (-8.3, -3.7), (-7.7, -0.1), (-6.0, 6.8), (-5.5, -5.0), (-9.1, 5.9), (-8.9, -1.3),
    (-7.0, -3.3), (-6.9, 0.5), (-5.3, 3.3), (-7.5, 4.4), (-9.6, -5.6), (-6.2, 8.0), (-8.5, 1.6), (-5.8, -4.1),
    (-4.4, 1.3), (-3.6, -0.8), (-2.5, 3.6), (-1.4, -2.3), (-0.5, 4.9), (-4.0, -4.5), (-3.2, 6.6), (-2.1, 0.4),
    (-1.8, -5.8), (-0.7, 2.6), (-4.8, 3.8), (-3.8, -1.5), (-2.9, 7.5), (-1.1, -0.1), (-0.2, -3.4), (-4.2, -0.6),
    (-3.0, 1.8), (-2.4, -4.8), (-1.5, 2.2), (-0.6, -6.6), (-4.9, 6.1), (-3.3, 0.0), (-2.7, -2.1), (-1.9, 4.5),
    (-0.3, 0.7), (-4.6, -2.8), (-3.1, 4.2), (-2.2, -7.2), (-1.2, 3.5), (-0.9, -1.2), (-4.1, -6.4), (-3.6, 2.9),
    (-1.6, 6.8), (0.0, 1.2), (-2.5, -0.5), (-4.5, 4.7), (-1.4, -3.9), (-3.9, 8.4), (-0.8, 5.7), (-2.8, -5.3),
    (0.6, 0.5), (1.5, 2.9), (2.4, -1.3), (3.7, 4.3), (4.6, -2.6), (1.0, -4.3), (1.8, 6.1), (2.9, 1.0),
    (3.2, -5.4), (4.3, 2.3), (0.3, 3.7), (1.2, -2.1), (2.1, 7.3), (3.9, -0.2), (4.8, 5.0), (0.8, -1.1),
    (2.0, 0.8), (2.6, -6.2), (3.4, 2.8), (4.1, -1.7), (0.1, -7.1), (1.4, 4.5), (2.7, 3.4), (3.6, -3.2),
    (5.0, 0.0), (0.6, 1.8), (1.7, -3.8), (2.3, -0.2), (4.0, 6.6), (4.5, -4.9), (0.9, 5.8), (1.1, -1.4),
    (3.0, -3.5), (3.1, 0.4), (4.7, 3.2), (2.5, 4.6), (0.4, -5.5), (3.8, 8.1), (1.5, 1.5), (4.2, -4.0),
    (5.5, 1.0), (6.4, -1.0), (7.5, 3.7), (8.6, -2.1), (9.5, 5.1), (5.9, -4.6), (6.8, 6.7), (7.9, 0.3),
    (8.2, -5.7), (9.3, 2.5), (5.2, 3.9), (6.2, -1.6), (7.1, 7.6), (8.9, 0.0), (9.8, -3.3), (5.8, -0.5),
    (7.0, 1.9), (7.6, -4.9), (8.5, 2.0), (9.4, -6.5), (5.1, 6.2), (6.7, 0.1), (7.3, -2.3), (8.1, 4.7),
    (9.7, 0.6), (5.4, -2.7), (6.9, 4.1), (7.8, -7.3), (8.8, 3.4), (9.1, -1.3), (5.9, -6.3), (6.4, 2.7),
    (8.4, 6.9), (10.0, 1.6), (7.5, -0.7), (5.5, 4.8), (8.6, -3.9), (6.1, 8.3), (9.2, 5.6), (7.2, -5.4),
    (10.5, 0.2), (11.4, 2.6), (12.3, -1.6), (13.6, 4.0), (14.5, -2.9), (10.9, -4.0), (11.8, 5.9), (12.8, 0.7),
    (13.1, -5.1), (14.2, 2.1), (10.2, 3.4), (11.1, -2.4), (12.0, 7.0), (13.8, -0.5), (14.7, 4.7), (10.7, -1.4),
    (11.9, 0.5), (12.5, -6.5), (13.3, 2.5), (14.0, -2.0), (10.0, -7.4), (11.3, 4.2), (12.6, 3.1), (13.5, -3.5),
    (14.9, -0.3), (10.5, 1.5), (11.6, -4.1), (12.2, -0.5), (13.9, 6.3), (14.4, -5.2), (10.8, 5.5), (11.0, -1.7),
    (12.9, -3.8), (13.0, 0.1), (14.6, 2.9), (12.4, 4.3), (10.3, -5.8), (13.7, 7.8), (11.4, 1.2), (14.1, -4.3),
    (15.4, 0.7), (16.3, -1.3), (17.4, 3.4), (18.5, -2.4), (19.4, 4.8), (15.8, -4.9), (16.7, 6.4), (17.8, 0.0),
    (18.1, -6.0), (19.2, 2.2), (15.1, 3.6), (16.1, -1.9), (17.0, 7.3), (18.8, -0.3), (19.7, -3.6), (15.7, -0.8),
    (16.9, 1.6), (17.5, -5.2), (18.4, 1.7), (19.3, -6.8), (15.0, 5.9), (16.6, -0.2), (17.2, -2.6), (18.0, 4.4),
    (19.6, 0.3), (15.3, -3.0), (16.8, 3.8), (17.7, -7.6), (18.7, 3.1), (19.0, -1.6), (15.8, -6.6), (16.3, 2.4),
    (18.3, 6.6), (19.9, 1.3), (17.4, -1.0), (15.4, 4.5), (18.5, -4.2), (16.0, 8.0), (19.1, 5.3), (17.1, -5.7),
    (20.3, -0.1), (21.2, 2.3), (22.1, -1.9), (23.4, 3.7), (24.3, -3.2), (20.7, -4.3), (21.6, 5.6), (22.6, 0.4),
    (22.9, -5.4), (24.0, 1.8), (20.0, 3.1), (20.9, -2.7), (21.8, 6.7), (23.6, -0.8), (24.5, 4.4), (20.5, -1.7),
    (21.7, 0.2), (22.3, -6.8), (23.1, 2.2), (23.8, -2.3), (20.2, -7.7), (21.1, 3.9), (22.4, 2.8), (23.3, -3.8),
    (24.7, -0.6), (20.3, 1.2), (21.4, -4.4), (22.0, -0.8), (23.7, 6.0), (24.2, -5.5), (20.6, 5.2), (20.8, -2.0),
    (22.7, -4.1), (22.8, -0.2), (24.4, 2.6), (22.2, 4.0), (21.5, -6.1), (23.5, 7.5),
    (25.4, 0.4), (26.3, -1.6), (27.4, 3.1), (28.5, -2.7), (29.4, 4.5), (25.8, -5.2), (26.7, 6.1), (27.8, -0.3),
    (28.1, -6.3), (29.2, 1.9), (25.1, 3.3), (26.1, -2.2), (27.0, 7.0), (28.8, -0.6), (29.7, -3.9), (25.7, -1.1),
    (26.9, 1.3), (27.5, -5.5), (28.4, 1.4), (29.3, -7.1), (25.0, 5.6), (26.6, -0.5), (27.2, -2.9), (28.0, 4.1),
    (29.6, 0.0), (25.3, -3.3), (26.8, 3.5), (27.7, -7.9), (28.7, 2.8), (29.0, -1.9), (25.8, -6.9), (26.3, 2.1),
    (28.3, 6.3), (29.9, 1.0), (27.4, -1.3), (25.4, 4.2),
    (30.5, -0.4), (31.4, 2.0), (32.3, -2.2), (33.6, 3.4), (34.5, -3.5), (30.9, -4.6), (31.8, 5.3), (32.8, 0.1),
    (33.1, -5.7), (34.2, 1.5), (30.2, 2.8), (31.1, -3.0), (32.0, 6.4), (33.8, -1.1), (34.7, 4.1), (30.7, -2.0),
    (31.9, -0.1), (32.5, -7.1), (33.3, 1.9), (34.0, -2.6), (30.0, -8.0), (31.3, 3.6), (32.6, 2.5), (33.5, -4.1),
    (34.9, -0.9), (30.5, 0.9), (31.6, -4.7), (32.2, -1.1), (33.9, 5.7), (34.4, -5.8), (30.8, 4.9), (32.9, -4.4),
    (35.6, -0.7), (36.5, 1.7), (37.4, -2.5), (38.7, 3.1), (39.6, -3.8), (36.0, -4.9), (36.9, 5.0), (37.9, -0.2),
    (38.2, -6.0), (39.3, 1.2), (35.3, 2.5), (36.2, -3.3), (37.1, 6.1), (38.9, -1.4), (39.8, 3.8), (35.8, -2.3),
    (37.0, -0.4), (37.6, -7.4), (38.5, 1.6), (39.1, -2.9), (35.1, -8.3), (36.4, 3.3), (37.7, 2.2), (38.6, -4.4),
    (39.9, -1.2), (35.6, 0.6), (36.7, -5.0), (38.0, 5.4),
    (40.6, -1.0), (41.5, 1.4), (42.4, -2.8), (43.7, 2.8), (44.6, -4.1), (41.0, -5.2), (41.9, 4.7), (42.9, -0.5),
    (43.2, -6.3), (44.3, 0.9), (40.3, 2.2), (41.2, -3.6), (42.1, 5.8), (43.9, -1.7), (44.8, 3.5), (40.8, -2.6),
    (42.0, -0.7), (42.6, -7.7), (43.4, 1.3), (44.1, -3.2), (41.4, 3.0), (43.6, -4.7),
    (45.6, -1.3), (46.5, 1.1), (47.4, -3.1), (48.7, 2.5), (49.6, -4.4), (46.0, -5.5), (46.9, 4.4), (47.9, -0.8),
    (48.2, -6.6), (49.3, 0.6), (45.3, 1.9), (46.2, -3.9), (47.1, 5.5), (48.9, -2.0), (45.8, -2.9), (47.0, -1.0),
]

# tacadas do Qi35 (pontos vermelhos)
qi35_pts = [
    (-69.4, -5.1), (-51.8, 1.5), (-46.0, 6.1), (-38.3, 3.4), (-35.6, 1.8), (-32.2, 2.0), (-33.4, 8.1), (-29.8, 8.4),
    (-33.2, -0.6), (-31.7, -2.8), (-26.6, -4.2), (-26.5, -10.7), (-26.5, 4.9), (-25.5, 4.1), (-23.9, 6.8),
    (-24.3, 10.6), (-22.2, 8.9), (-21.6, 8.5), (-19.1, 9.8), (-20.1, 7.6), (-20.6, 6.1), (-18.4, 4.8), (-15.3, 7.3),
    (-14.0, 7.3), (-11.8, 9.0), (-10.4, 4.9), (-9.2, 7.6), (-6.5, 12.1), (-6.0, 7.2), (-3.4, 6.6), (-2.2, 7.6),
    (-4.3, 5.2), (-3.0, 4.4), (-1.0, 4.6), (0.8, 6.5), (1.2, 6.2), (0.9, 11.1), (7.3, 11.0), (10.6, 8.0),
    (14.2, 13.0), (17.9, 7.2), (14.2, 6.4), (21.4, 2.7), (-17.6, 1.8), (-16.9, 1.5), (-15.4, 1.1), (-18.4, 0.8),
    (-8.5, 1.5), (-6.8, 1.2), (-7.1, 1.7), (-3.7, 0.8), (-1.2, 1.1), (-0.8, 1.4), (1.7, 1.1), (2.9, 1.3),
    (-4.3, 2.6), (12.6, 3.4), (13.3, 3.6), (14.3, 3.3), (15.4, 3.9), (15.9, 1.8), (18.5, 1.5), (19.2, 0.8),
    (12.6, 0.8), (-18.8, -1.0), (-16.7, -0.85), (-10.4, -0.5), (-13.2, -2.3), (-10.1, -2.6), (-6.4, -2.5),
    (-5.7, -2.1), (-18.1, -2.75), (-20.1, -3.0), (-18.4, -4.1), (-19.3, -6.4), (-20.9, -8.3), (-20.4, -8.7),
    (-9.1, -7.5), (-4.2, -9.4), (-0.65, -5.8), (1.2, -2.3), (-1.2, 0.2), (-4.0, -0.4), (9.8, -1.6), (10.7, -1.0),
    (11.4, -3.6), (13.6, -0.4), (14.2, -0.5), (17.7, -1.7), (17.6, -0.25), (19.1, -4.2), (18.8, -6.3),
    (21.7, -12.4), (-8.7, -25.7), (21.2, 2.4), (27.6, 3.6), (35.3, 3.7), (42.1, 6.2), (49.1, 3.9), (41.2, 0.6),
    (28.9, -1.0), (33.0, -2.8), (37.8, -2.0), (32.2, -5.6), (48.0, -6.1), (26.5, -9.0), (32.2, -10.5),
    (47.7, -0.4), (54.2, -10.2), (56.5, -11.7), (62.4, -4.8),
]

# elipses de dispersao: centro x, centro y, largura, altura, angulo
all_ellipse = (3.5, 0.0, 125.4, 25.0, -1.9)
qi35_ellipse = (-0.65, 1.0, 97.2, 24.0, -2.4)

todos = edge_left + edge_mid + edge_right + core_left + core_mid + core_right + core_dense
all_x = [p[0] for p in todos]
all_y = [p[1] for p in todos]
qi_x = [p[0] for p in qi35_pts]
qi_y = [p[1] for p in qi35_pts]

fig = plt.figure(figsize=(9, 6), dpi=966 / 9)
ax = fig.add_axes([0.1159, 0.1382, 0.7712, 0.6957])

ax.scatter(all_x, all_y, s=12, c='k', alpha=0.3, zorder=2)
ax.scatter(qi_x, qi_y, s=12, c='red', zorder=3)

el1 = Ellipse(all_ellipse[:2], all_ellipse[2], all_ellipse[3], angle=all_ellipse[4],
              fill=False, edgecolor='k', linestyle='--', linewidth=2.8, label='All Models', zorder=4)
el2 = Ellipse(qi35_ellipse[:2], qi35_ellipse[2], qi35_ellipse[3], angle=qi35_ellipse[4],
              fill=False, edgecolor='red', linestyle='--', linewidth=2.8, label='Qi35', zorder=5)
ax.add_patch(el1)
ax.add_patch(el2)

ax.set_xlim(-70, 70)
ax.set_ylim(-40, 40)
ax.set_xticks([-60, -40, -20, 0, 20, 40, 60])
ax.set_yticks(range(-40, 41, 10))
ax.grid(True, zorder=0)
ax.set_axisbelow(True)
ax.set_xlabel('Offline, yds')
ax.set_ylabel('Percent of Mean Carry')

ax.legend(handles=[el1, el2], loc='lower right', bbox_to_anchor=(1.01, 1.015),
          handlelength=2.4, handleheight=0.95, labelspacing=0.9, handletextpad=0.6)

fig.savefig('out.png', dpi=966 / 9)
